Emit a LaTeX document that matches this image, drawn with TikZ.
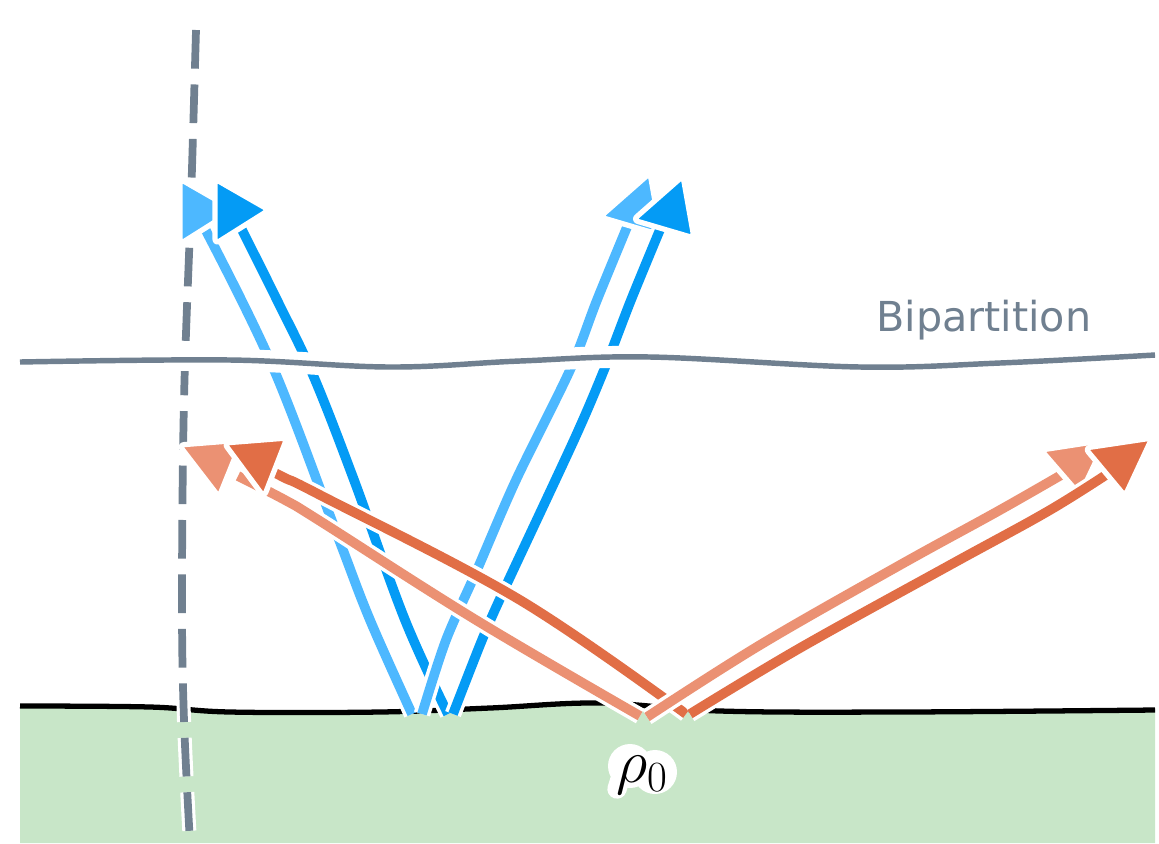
\RequirePackage{fix-cm}
\documentclass[tikz,border=0pt]{standalone}
\usepackage{amsmath}
\usepackage{fontspec}
\usepackage{tikz}
\newfontfamily\bipfont{DejaVu Sans}
\definecolor{slate}{RGB}{112,128,144}
\definecolor{skylight}{RGB}{77,184,255}
\definecolor{skydark}{RGB}{4,155,245}
\definecolor{corallight}{RGB}{235,145,115}
\definecolor{coraldark}{RGB}{225,110,70}
\definecolor{mint}{RGB}{200,230,200}

\begin{document}
\begin{tikzpicture}[
    x=0.02cm, y=-0.02cm,
    shaft/.style={
        line width=5.5pt,
        line cap=butt,
        line join=round,
        preaction={draw=white, line width=9.5pt}
    },
    headshape/.style={
        draw=white,
        line width=3pt,
        line join=round,
        rounded corners=3pt
    },
    cutline/.style={
        slate,
        line width=3.1pt,
        preaction={draw=white, line width=12.5pt}
    },
    dashline/.style={
        slate,
        line width=4.4pt,
        dash pattern=on 22pt off 9pt,
        preaction={draw=white, line width=8pt, dash pattern=on 22pt off 9pt}
    },
    rhofont/.style={font=\fontsize{35}{35}\selectfont}
]
\useasboundingbox (0,0) rectangle (1159,843);
% ground
\fill[mint] (20,843) -- plot[smooth, tension=0.6] coordinates {(20,706) (150,707) (230,712) (380,712) (490,708) (600,703) (720,711) (900,712) (1155,710)} -- (1155,843) -- cycle;
\draw[black, line width=3pt] plot[smooth, tension=0.6] coordinates {(20,706) (150,707) (230,712) (380,712) (490,708) (600,703) (720,711) (900,712) (1155,710)};
% vertical cut
\draw[dashline] plot[smooth, tension=0.6] coordinates {(196,30) (191,200) (184,400) (182,600) (184,720) (190,843)};
% blue pair, left
\draw[shaft, skylight] plot[smooth, tension=0.6] coordinates {(412,714) (370,620) (338,537) (272,365) (203,225)};
\filldraw[headshape, fill=skylight] (180,179) -- (180,244) -- (234,210) -- cycle;
\draw[shaft, skydark] plot[smooth, tension=0.6] coordinates {(448,714) (405,620) (354,480) (313,375) (277,300) (238,222)};
\filldraw[headshape, fill=skydark] (215,179) -- (215,244) -- (269,210) -- cycle;
% blue pair, right
\draw[shaft, skylight] plot[smooth, tension=0.5] coordinates {(422,714) (446,640) (477,570) (516,480) (570,370) (597,300) (632,215)};
\filldraw[headshape, fill=skylight] (600,217) -- (650,173) -- (661,235) -- cycle;
\draw[shaft, skydark] plot[smooth, tension=0.5] coordinates {(453,714) (482,640) (504,590) (574,440) (604,370) (631,300) (664,220)};
\filldraw[headshape, fill=skydark] (633,220) -- (683,176) -- (694,238) -- cycle;
% red pair, left
\draw[shaft, corallight] plot[smooth, tension=0.6] coordinates {(640,716) (476,620) (320,521) (285,500) (238,476)};
\filldraw[headshape, fill=corallight] (179,445) -- (242,440) -- (219,497) -- cycle;
\draw[shaft, coraldark] plot[smooth, tension=0.6] coordinates {(686,714) (520,600) (320,495) (285,478) (262,466)};
\filldraw[headshape, fill=coraldark] (224,443) -- (287,438) -- (264,497) -- cycle;
% red pair, right
\draw[shaft, corallight] plot[smooth, tension=0.6] coordinates {(647,717) (760,645) (900,565) (1000,510) (1075,467)};
\filldraw[headshape, fill=corallight] (1041,450) -- (1106,440) -- (1080,495) -- cycle;
\draw[shaft, coraldark] plot[smooth, tension=0.6] coordinates {(690,714) (800,648) (950,565) (1050,510) (1118,467)};
\filldraw[headshape, fill=coraldark] (1085,448) -- (1152,438) -- (1125,496) -- cycle;
% bipartition
\draw[cutline] plot[smooth, tension=0.6] coordinates {(20,362) (230,360) (390,367) (520,361) (650,357) (860,367) (1000,363) (1155,355)};
\node[font=\bipfont\fontsize{23.5}{26}\selectfont, text=slate, anchor=base west, inner sep=0pt] (biplabel) at (876,331) {Bipartition};
% state label on a white halo
\fill[white] (630,766) circle[radius=22];
\fill[white] (655,772) circle[radius=22];
\draw[white, line width=11pt, line cap=round] (621,776) -- (617,789);
\node[rhofont, inner sep=0pt] (rholabel) at (642,775) {$\rho_0$};
\end{tikzpicture}
\end{document}
